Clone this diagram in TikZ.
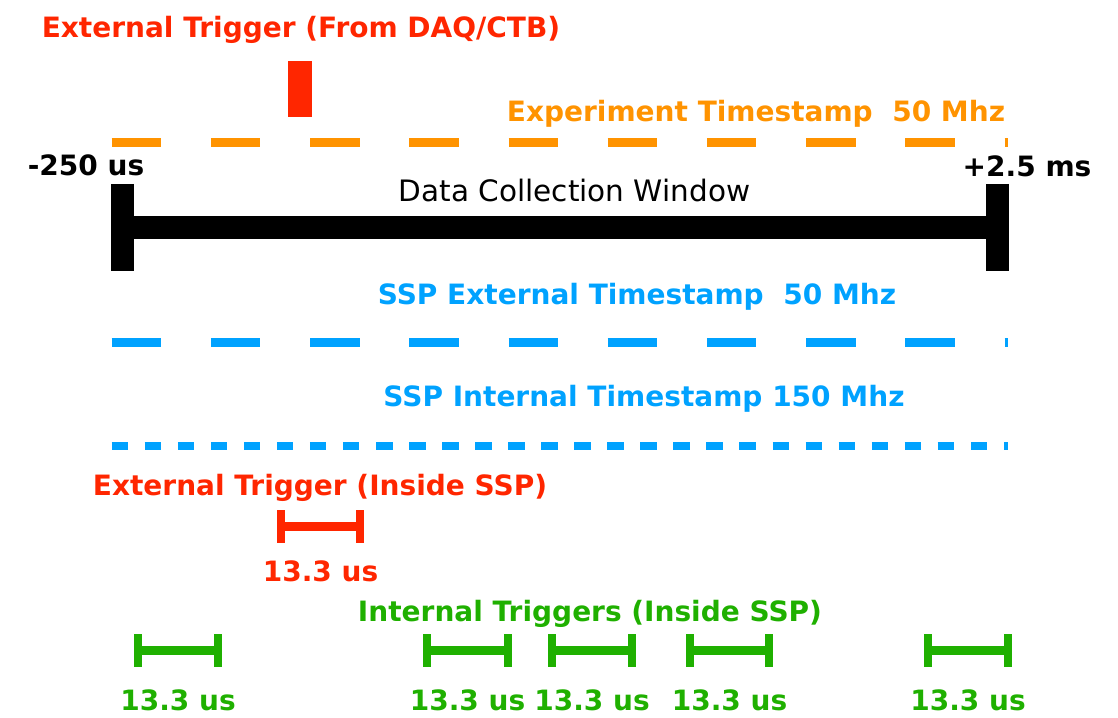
\documentclass[tikz,border=0pt]{standalone}
\usepackage{fontspec}
\setmainfont{DejaVu Sans}
\usetikzlibrary{positioning}

\definecolor{trigred}{RGB}{255,38,0}
\definecolor{tsorange}{RGB}{255,147,0}
\definecolor{sspblue}{RGB}{0,162,255}
\definecolor{itgreen}{RGB}{31,176,0}

\begin{document}
\begin{tikzpicture}[x=1pt,y=-1pt]
\tikzstyle{lbl}=[font=\fontsize{28}{30}\selectfont\bfseries,anchor=base,inner sep=0pt]
\tikzstyle{plain}=[font=\fontsize{29.5}{31}\selectfont,anchor=base,inner sep=0pt]
\tikzstyle{tick50}=[line width=8.5pt,dash pattern=on 49.4pt off 49.8pt]
\tikzstyle{tick150}=[line width=8.5pt,dash pattern=on 16.5pt off 16.54pt]
\tikzstyle{span}=[line width=9pt]
\tikzstyle{spanend}=[line width=8pt]
\useasboundingbox (0,0) rectangle (1118,717);
%% labels %%
\node[lbl,text=trigred] at (301,37.3) (extT) {External Trigger (From DAQ/CTB)};
\node[lbl,text=tsorange] at (756,121.5) (expT) {Experiment Timestamp\ \ 50 Mhz};
\node[lbl] at (86,175) (tmin) {-250 us};
\node[lbl] at (1027,176) (tmax) {+2.5 ms};
\node[plain] at (574.5,201.7) (dcw) {Data Collection Window};
\node[lbl,text=sspblue] at (637,304.3) (sspE) {SSP External Timestamp\ \ 50 Mhz};
\node[lbl,text=sspblue] at (644,406) (sspI) {SSP Internal Timestamp 150 Mhz};
\node[lbl,text=trigred] at (320,495) (extS) {External Trigger (Inside SSP)};
\node[lbl,text=trigred] at (320.5,581.7) (extW) {13.3 us};
\node[lbl,text=itgreen] at (590,621) (intS) {Internal Triggers (Inside SSP)};
%% trigger pulse %%
\node[fill=trigred,inner sep=0pt,minimum width=24pt,minimum height=55.7pt] at (300.3,88.85) (pulse) {};
%% timestamp clocks %%
\coordinate (exp-a) at (111.7,142.5);
\coordinate (exp-b) at (1008,142.5);
\coordinate (sspE-a) at (111.7,342.5);
\coordinate (sspE-b) at (1008,342.5);
\coordinate (sspI-a) at (111.7,445.8);
\coordinate (sspI-b) at (1008,445.8);
\draw[tick50,tsorange] (exp-a) -- (exp-b);
\draw[tick50,sspblue] (sspE-a) -- (sspE-b);
\draw[tick150,sspblue] (sspI-a) -- (sspI-b);
%% data collection window %%
\coordinate (win-l) at (122.3,227.5);
\coordinate (win-r) at (997.3,227.5);
\draw[line width=23pt] (win-l) -- (win-r);
\draw[line width=22.7pt] ([yshift=43.75pt]win-l) -- ([yshift=-43.75pt]win-l);
\draw[line width=22.7pt] ([yshift=43.75pt]win-r) -- ([yshift=-43.75pt]win-r);
%% external trigger window %%
\coordinate (ext-l) at (281,526.5);
\coordinate (ext-r) at (360,526.5);
\draw[span,trigred] (ext-l) -- (ext-r);
\draw[spanend,trigred] ([yshift=16.5pt]ext-l) -- ([yshift=-16.5pt]ext-l);
\draw[spanend,trigred] ([yshift=16.5pt]ext-r) -- ([yshift=-16.5pt]ext-r);
%% internal triggers %%
\foreach \xa/\xb [count=\i] in {134/222,423/512,548/636,686/773,924/1012}{
  \coordinate (it\i-l) at (\xa+4,650.5);
  \coordinate (it\i-r) at (\xb-4,650.5);
  \draw[span,itgreen] (it\i-l) -- (it\i-r);
  \draw[spanend,itgreen] ([yshift=16.5pt]it\i-l) -- ([yshift=-16.5pt]it\i-l);
  \draw[spanend,itgreen] ([yshift=16.5pt]it\i-r) -- ([yshift=-16.5pt]it\i-r);
  \node[lbl,text=itgreen] at ({(\xa+\xb)/2},710.7) (it\i-w) {13.3 us};
}
\end{tikzpicture}
\end{document}
